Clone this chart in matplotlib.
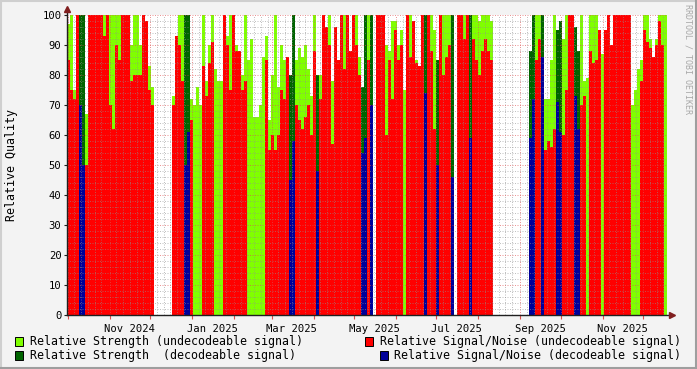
import datetime as dt
import numpy as np
import matplotlib
matplotlib.use('Agg')
import matplotlib.pyplot as plt
import matplotlib.dates as mdates
from matplotlib.patches import Rectangle
from matplotlib.lines import Line2D

# time axis: one value every ~2.2 days starting end of Sep 2024
start = dt.datetime(2024, 9, 30, 12)
step_days = 2.221

nan = np.nan
# relative strength (top of the green / dark green area)
strength = [
    97, 100, 75, 100, 100, 100, 67, 100, 100, 100, 100, 100, 100, 100, 100, 100, 100, 100, 100, 100,
    100, 90, 100, 100, 90, 100, 98, 83, 76, nan, nan, nan, nan, nan, nan, 73, 93, 100, 100, 100,
    100, 72, 70, 76, 70, 100, 78, 90, 100, 82, 78, 78, 100, 93, 100, 100, 90, 88, 80, 100,
    85, 92, 66, 66, 70, 86, 93, 65, 80, 100, 76, 90, 85, 86, 80, 100, 85, 89, 86, 90,
    82, 73, 100, 80, 80, 100, 96, 100, 78, 96, 85, 100, 100, 100, 88, 100, 100, 86, 76, 100,
    100, 100, nan, 100, 100, 100, 90, 88, 98, 98, 90, 95, 75, 100, 100, 98, 85, 83, 100, 100,
    100, 100, 95, 85, 100, 100, 100, 100, 100, nan, 100, 100, 100, 100, 100, 100, 100, 98, 100, 100,
    100, 98, nan, nan, nan, nan, nan, nan, nan, nan, nan, nan, nan, nan, 88, 100, 100, 100, 100, 72,
    72, 85, 100, 95, 98, 92, 100, 100, 100, 96, 88, 100, 78, 79, 100, 100, 100, 95, 87, 95,
    100, 90, 100, 100, 100, 100, 100, 100, 70, 75, 82, 85, 100, 100, 92, 86, 92, 100, 100, 100,
]
# relative signal/noise (top of the red / blue area)
snr = [
    85, 75, 72, 100, 70, 50, 50, 100, 100, 100, 100, 100, 93, 100, 70, 62, 90, 85, 100, 100,
    100, 78, 80, 80, 80, 100, 98, 75, 70, nan, nan, nan, nan, nan, nan, 70, 93, 90, 78, 50,
    61, 65, 0, 0, 0, 83, 73, 84, 91, 0, 0, 0, 100, 90, 75, 100, 88, 88, 75, 78,
    0, 0, 0, 0, 0, 0, 85, 55, 60, 55, 60, 75, 72, 86, 45, 58, 70, 65, 62, 66,
    70, 60, 88, 48, 72, 100, 96, 90, 57, 96, 85, 100, 82, 100, 88, 100, 90, 80, 54, 59,
    85, 70, nan, 100, 100, 100, 60, 85, 72, 95, 85, 90, 0, 100, 86, 98, 84, 83, 100, 74,
    100, 88, 62, 50, 100, 80, 86, 90, 46, nan, 100, 100, 92, 100, 59, 92, 85, 80, 88, 92,
    88, 85, nan, nan, nan, nan, nan, nan, nan, nan, nan, nan, nan, nan, 59, 72, 85, 92, 86, 55,
    58, 56, 62, 71, 61, 60, 75, 100, 100, 73, 62, 70, 73, 0, 88, 84, 85, 95, 0, 95,
    100, 90, 100, 100, 100, 100, 100, 100, 0, 0, 0, 78, 95, 91, 89, 86, 90, 98, 90, 0,
]
# 1 = decodeable signal (dark green / blue), 0 = undecodeable (green / red)
decodeable = [
    0, 0, 0, 0, 1, 1, 0, 0, 0, 0, 0, 0, 0, 0, 0, 0, 0, 0, 0, 0,
    0, 0, 0, 0, 0, 0, 0, 0, 0, 0, 0, 0, 0, 0, 0, 0, 0, 0, 0, 1,
    1, 0, 0, 0, 0, 0, 0, 0, 0, 0, 0, 0, 0, 0, 0, 0, 0, 0, 0, 0,
    0, 0, 0, 0, 0, 0, 0, 0, 0, 0, 0, 0, 0, 0, 1, 1, 0, 0, 0, 0,
    0, 0, 0, 1, 0, 0, 0, 0, 0, 0, 0, 0, 0, 0, 0, 0, 0, 0, 1, 1,
    0, 1, 0, 0, 0, 0, 0, 0, 0, 0, 0, 0, 0, 0, 0, 0, 0, 0, 0, 1,
    0, 0, 0, 1, 0, 0, 0, 0, 1, 0, 0, 0, 0, 0, 1, 0, 0, 0, 0, 0,
    0, 0, 0, 0, 0, 0, 0, 0, 0, 0, 0, 0, 0, 0, 1, 1, 0, 0, 1, 0,
    0, 0, 0, 1, 1, 0, 0, 0, 0, 1, 1, 0, 0, 0, 0, 0, 0, 0, 0, 0,
    0, 0, 0, 0, 0, 0, 0, 0, 0, 0, 0, 0, 0, 0, 0, 0, 0, 0, 0, 0,
]

month_labels = ['Nov 2024', 'Jan 2025', 'Mar 2025', 'May 2025', 'Jul 2025', 'Sep 2025', 'Nov 2025']
label_dates = [dt.datetime(2024, 11, 16), dt.datetime(2025, 1, 16), dt.datetime(2025, 3, 16),
               dt.datetime(2025, 5, 16), dt.datetime(2025, 7, 16), dt.datetime(2025, 9, 16),
               dt.datetime(2025, 11, 16)]

legend_texts = ['Relative Strength (undecodeable signal)',
                'Relative Strength  (decodeable signal)',
                'Relative Signal/Noise (undecodeable signal)',
                'Relative Signal/Noise (decodeable signal)']

GREEN = '#80ff00'
DKGREEN = '#006400'
RED = '#ff0000'
BLUE = '#000099'

W, H = 697, 369
mono = 'DejaVu Sans Mono'


def px(x, y):
    return x / W, 1 - y / H


fig = plt.figure(figsize=(W / 100, H / 100), dpi=100, facecolor='#f3f3f3')
ax = fig.add_axes([67 / W, (H - 315) / H, 600 / W, 300 / H])
ax.set_facecolor('white')

times = [start + dt.timedelta(days=step_days * i) for i in range(len(strength))]
x = mdates.date2num(times)
s = np.nan_to_num(np.array(strength, dtype=float))
n = np.nan_to_num(np.array(snr, dtype=float))
d = np.array(decodeable)

ax.bar(x, s, width=step_days, align='edge', linewidth=0, antialiased=False,
       color=[DKGREEN if f else GREEN for f in d], zorder=1)
ax.bar(x, n, width=step_days, align='edge', linewidth=0, antialiased=False,
       color=[BLUE if f else RED for f in d], zorder=1.1)

x0 = mdates.date2num(start)
x1 = x0 + step_days * len(strength)
ax.set_xlim(x0, x1)
ax.set_ylim(0, 100)

# grid
ax.set_axisbelow(False)
ax.yaxis.set_major_locator(plt.MultipleLocator(10))
ax.yaxis.set_minor_locator(plt.MultipleLocator(2))
ax.yaxis.set_major_formatter(plt.FormatStrFormatter('%d'))
ax.xaxis.set_major_locator(mdates.MonthLocator(bymonthday=1))
ax.xaxis.set_minor_locator(mdates.DayLocator(bymonthday=[6, 11, 16, 21, 26]))
ax.grid(which='minor', color=(0.56, 0.56, 0.56), alpha=0.55, linewidth=0.72,
        linestyle=(0, (1, 1.5)))
ax.grid(which='major', color=(0.87, 0.31, 0.31), alpha=0.6, linewidth=0.72,
        linestyle=(0, (1, 1.5)))

for sp in ax.spines.values():
    sp.set_visible(False)

ax.tick_params(axis='x', which='major', length=3, width=0.8, color=(0.87, 0.31, 0.31),
               labelbottom=False)
ax.tick_params(axis='x', which='minor', length=0)
ax.tick_params(axis='y', which='major', length=2, width=0.8, color=(0.12, 0.12, 0.12),
               pad=2, labelsize=7.6, labelfontfamily=mono)
ax.tick_params(axis='y', which='minor', length=0)

for lab, ld in zip(month_labels, label_dates):
    ax.text(mdates.date2num(ld), -0.03, lab, transform=ax.get_xaxis_transform(),
            ha='center', va='top', fontsize=7.6, family=mono)

# axes with arrows
ax.add_line(Line2D([0, 0], [0, 1 + 6 / 300], transform=ax.transAxes, color=(0.12, 0.12, 0.12),
                   lw=1, clip_on=False, zorder=5))
ax.add_line(Line2D([0, 1 + 4 / 600], [0, 0], transform=ax.transAxes, color=(0.12, 0.12, 0.12),
                   lw=1, clip_on=False, zorder=5))
ax.plot([0], [1 + 6 / 300], marker='^', ms=5, color=(0.5, 0.12, 0.12),
        transform=ax.transAxes, clip_on=False, zorder=6)
ax.plot([1 + 5 / 600], [0], marker='>', ms=5, color=(0.5, 0.12, 0.12),
        transform=ax.transAxes, clip_on=False, zorder=6)

fig.text(*px(12, 165), 'Relative Quality', rotation=90, ha='center', va='center',
         fontsize=8.4, family=mono)
fig.text(*px(688, 4), 'RRDTOOL / TOBI OETIKER', rotation=-90, ha='center', va='top',
         fontsize=6, family=mono, color='#a8a8a8')

# legend
legend_pos = [(15, 341, 30), (15, 355, 30), (365, 341, 380), (380, 355, 394)]
legend_cols = [GREEN, DKGREEN, RED, BLUE]
for (bx, by, tx), col, txt in zip(legend_pos, legend_cols, legend_texts):
    fx, fy = px(bx, by + 4.5)
    fig.add_artist(Rectangle((fx, fy), 8 / W, 9 / H, transform=fig.transFigure,
                             facecolor=col, edgecolor='black', linewidth=0.7))
    fig.text(*px(tx, by), txt, ha='left', va='center', fontsize=8.4, family=mono)

# 3d-ish frame around the image
fig.add_artist(Line2D([0, 1], [1 - 1 / H, 1 - 1 / H], transform=fig.transFigure,
                      color=(0.81, 0.81, 0.81), lw=1.5))
fig.add_artist(Line2D([1 / W, 1 / W], [0, 1], transform=fig.transFigure,
                      color=(0.81, 0.81, 0.81), lw=1.5))
fig.add_artist(Line2D([0, 1], [1 / H, 1 / H], transform=fig.transFigure,
                      color=(0.62, 0.62, 0.62), lw=1.5))
fig.add_artist(Line2D([1 - 1 / W, 1 - 1 / W], [0, 1], transform=fig.transFigure,
                      color=(0.62, 0.62, 0.62), lw=1.5))

fig.savefig('out.png', dpi=100, facecolor=fig.get_facecolor())
